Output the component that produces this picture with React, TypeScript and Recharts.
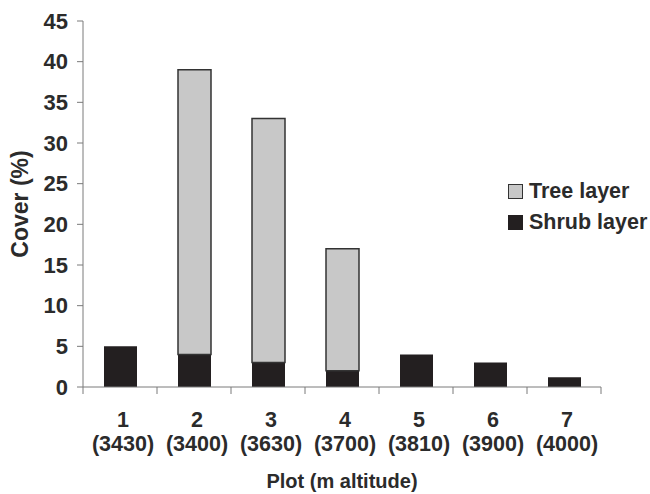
import React from "react";
import { BarChart, Bar, XAxis, YAxis } from "recharts";

const plots = ["1", "2", "3", "4", "5", "6", "7"];
const altitudes = ["3430", "3400", "3630", "3700", "3810", "3900", "4000"];
const shrubCover = [5, 4, 3, 2, 4, 3, 1.2];
const treeCover = [0, 35, 30, 15, 0, 0, 0];
const yTicks = [0, 5, 10, 15, 20, 25, 30, 35, 40, 45];

const FONT = "'Liberation Sans', Arial, sans-serif";
const TEXT = "#2b2b2b";
const AXIS = "#7a7a7a";
const SHRUB = "#231f20";
const TREE = "#c8c8c8";

const data = plots.map((p, i) => ({
  plot: p,
  altitude: altitudes[i],
  shrub: shrubCover[i],
  tree: treeCover[i],
}));

const BAND = 518 / plots.length;

function PlotTick(props: any) {
  const { x, payload, index } = props;
  const alt = altitudes[index];
  const left = x - BAND / 2;
  const axisY = 387;
  return (
    <g>
      <line x1={left} y1={axisY} x2={left} y2={axisY + 7} stroke={AXIS} strokeWidth={1} />
      {index === plots.length - 1 && (
        <line x1={left + BAND} y1={axisY} x2={left + BAND} y2={axisY + 7} stroke={AXIS} strokeWidth={1} />
      )}
      <text x={x + 3} y={axisY + 40} textAnchor="middle" fontFamily={FONT} fontWeight="bold" fontSize={21.5} fill={TEXT}>
        {payload.value}
      </text>
      <text x={x + 3} y={axisY + 64} textAnchor="middle" fontFamily={FONT} fontWeight="bold" fontSize={21.5} fill={TEXT}>
        ({alt})
      </text>
    </g>
  );
}

const legendItems = [
  { name: "Tree layer", fill: TREE, stroke: "#333" },
  { name: "Shrub layer", fill: SHRUB, stroke: SHRUB },
];

export default function App() {
  return (
    <div style={{ position: "absolute", left: 0, top: 0, width: 650, height: 494, background: "#fff" }}>
      <BarChart
        width={650}
        height={494}
        data={data}
        margin={{ top: 21, right: 49, bottom: 0, left: 0 }}
        barSize={33}
      >
        <XAxis
          dataKey="plot"
          height={107}
          axisLine={{ stroke: AXIS }}
          tickLine={false}
          interval={0}
          tick={<PlotTick />}
          label={{
            value: "Plot (m altitude)",
            position: "insideBottom",
            offset: 6,
            style: { fontFamily: FONT, fontWeight: "bold", fontSize: 20, fill: TEXT },
          }}
        />
        <YAxis
          width={83}
          domain={[0, 45]}
          ticks={yTicks}
          interval={0}
          axisLine={{ stroke: AXIS }}
          tickLine={{ stroke: AXIS }}
          tickSize={6}
          tickMargin={9}
          tick={{ fontFamily: FONT, fontWeight: "bold", fontSize: 22, fill: TEXT }}
          label={{
            value: "Cover (%)",
            angle: -90,
            position: "insideLeft",
            offset: 20,
            style: { fontFamily: FONT, fontWeight: "bold", fontSize: 23, fill: TEXT, textAnchor: "middle" },
          }}
        />
        <Bar dataKey="shrub" stackId="a" fill={SHRUB} isAnimationActive={false} />
        <Bar dataKey="tree" stackId="a" fill={TREE} stroke="#333" strokeWidth={1.5} isAnimationActive={false} />
      </BarChart>
      <div
        style={{
          position: "absolute",
          left: 508,
          top: 176,
          fontFamily: FONT,
          fontWeight: "bold",
          fontSize: 21.5,
          color: TEXT,
        }}
      >
        {legendItems.map((it) => (
          <div key={it.name} style={{ display: "flex", alignItems: "center", height: 31, whiteSpace: "nowrap" }}>
            <span
              style={{
                width: 13,
                height: 13,
                background: it.fill,
                border: `1.5px solid ${it.stroke}`,
                marginRight: 6,
                display: "inline-block",
              }}
            />
            <span>{it.name}</span>
          </div>
        ))}
      </div>
    </div>
  );
}
